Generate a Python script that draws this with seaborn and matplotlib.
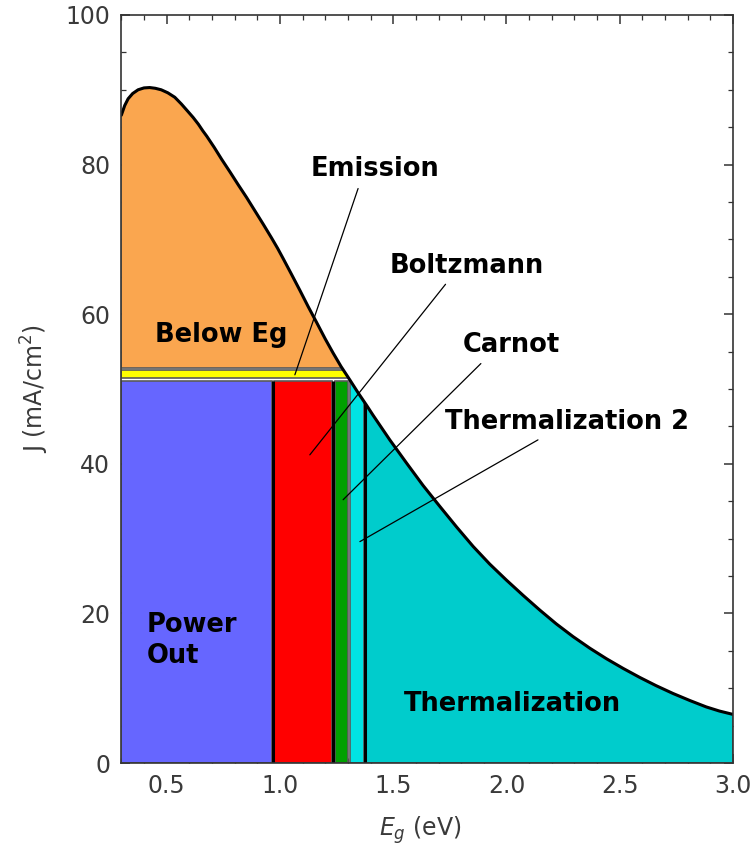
import numpy as np
import matplotlib
matplotlib.use("Agg")
import matplotlib.pyplot as plt
import seaborn as sns
from matplotlib.patches import Polygon, Rectangle
from matplotlib.ticker import MultipleLocator, FormatStrFormatter

# ---------------- data ----------------
curve_E = [0.300, 0.315, 0.330, 0.350, 0.374, 0.400, 0.425, 0.450, 0.476, 0.505,
           0.536, 0.565, 0.594, 0.617, 0.640, 0.660, 0.677, 0.710, 0.743, 0.780,
           0.816, 0.853, 0.890, 0.927, 0.963, 0.990, 1.015, 1.050, 1.088, 1.125,
           1.162, 1.200, 1.235, 1.270, 1.309, 1.345, 1.383, 1.411, 1.485, 1.559,
           1.632, 1.706, 1.780, 1.853, 1.926, 2.000, 2.074, 2.147, 2.220, 2.294,
           2.368, 2.441, 2.515, 2.588, 2.660, 2.735, 2.810, 2.882, 2.940, 3.000]
curve_J = [86.6, 87.9, 88.8, 89.5, 90.0, 90.25, 90.3, 90.2, 90.0, 89.6,
           89.0, 88.1, 87.1, 86.3, 85.4, 84.5, 83.8, 82.3, 80.7, 79.0,
           77.3, 75.6, 73.8, 72.0, 70.2, 68.8, 67.4, 65.4, 63.2, 61.0,
           58.9, 56.7, 54.8, 53.0, 51.2, 49.5, 47.8, 46.5, 43.2, 40.1,
           37.1, 34.3, 31.55, 28.95, 26.6, 24.45, 22.4, 20.45, 18.6, 16.9,
           15.35, 13.95, 12.65, 11.45, 10.35, 9.3, 8.35, 7.5, 6.95, 6.5]

region_names = ["Power Out", "Boltzmann", "Carnot", "Thermalization 2", "Thermalization"]
region_E_lo = [0.300, 0.975, 1.243, 1.311, 1.382]
region_E_hi = [0.965, 1.230, 1.299, 1.369, 3.000]
region_colors = ["#6666FF", "#FF0000", "#00A000", "#00E3E3", "#00CCCC"]
J_operating = 51.05          # top of the loss rectangles
separator_E = [0.970, 1.2365, 1.3755]
emission_J = (51.45, 52.55)  # yellow "Emission" strip
below_eg_J = 52.85           # bottom of the "Below Eg" region

# label texts, positions (E, J) and pointer lines
label_texts = ["Emission", "Boltzmann", "Carnot", "Thermalization 2"]
label_E = [1.419, 1.824, 2.022, 2.265]
label_J = [79.4, 66.4, 55.9, 45.6]
pointer_E0 = [1.345, 1.731, 1.887, 2.139]
pointer_J0 = [76.8, 64.0, 53.4, 43.2]
pointer_E1 = [1.066, 1.132, 1.279, 1.353]
pointer_J1 = [51.9, 41.2, 35.2, 29.6]

x_ticks = [0.5, 1.0, 1.5, 2.0, 2.5, 3.0]
y_ticks = [0, 20, 40, 60, 80, 100]

# ---------------- figure ----------------
sns.set_theme(style="ticks")
plt.rcParams['font.family'] = ['DejaVu Sans']
plt.rcParams['mathtext.fontset'] = 'dejavusans'

fig, ax = plt.subplots(figsize=(7.55, 8.56), dpi=100)
fig.subplots_adjust(left=0.1607, right=0.9709, bottom=0.1086, top=0.9825)

ax.set_xlim(0.3, 3.0)
ax.set_ylim(0, 100)

# clip polygon: area under the curve
under = Polygon([(curve_E[0], 0)] + list(zip(curve_E, curve_J)) + [(curve_E[-1], 0)],
                closed=True, facecolor='none', edgecolor='none', transform=ax.transData)
ax.add_patch(under)

edge_kw = dict(edgecolor='#5a5a5a', linewidth=1.2)

# Below Eg (orange)
r = Rectangle((0.3, below_eg_J), 1.2, max(curve_J), facecolor='#FAA64F', zorder=1, **edge_kw)
ax.add_patch(r); r.set_clip_path(under)
# Emission strip (yellow)
r = Rectangle((0.3, emission_J[0]), 1.2, emission_J[1] - emission_J[0],
              facecolor='#FFFF00', zorder=1, **edge_kw)
ax.add_patch(r); r.set_clip_path(under)

# loss / power regions
for name, lo, hi, c in zip(region_names, region_E_lo, region_E_hi, region_colors):
    top = max(curve_J) if name == "Thermalization" else J_operating
    r = Rectangle((lo, 0), hi - lo, top, facecolor=c, zorder=1, **edge_kw)
    ax.add_patch(r)
    r.set_clip_path(under)

vl = ax.vlines(separator_E, 0, J_operating, colors='black', linewidth=2.2, zorder=2)
vl.set_clip_path(under)

# the curve
sns.lineplot(x=curve_E, y=curve_J, color='black', linewidth=2.2, ax=ax, zorder=3,
             sort=False, estimator=None, solid_joinstyle='round')

# pointer lines and labels
lab_fs = 18.5
for t, ex, jy, e0, j0, e1, j1 in zip(label_texts, label_E, label_J,
                                      pointer_E0, pointer_J0, pointer_E1, pointer_J1):
    ax.plot([e0, e1], [j0, j1], color='black', linewidth=0.9, zorder=4)
    ax.text(ex, jy, t, ha='center', va='center', fontsize=lab_fs, fontweight='bold',
            color='black', zorder=5)

ax.text(0.739, 57.2, "Below Eg", ha='center', va='center', fontsize=lab_fs,
        fontweight='bold', color='black', zorder=5)
ax.text(0.412, 16.4, "Power\nOut", ha='left', va='center', fontsize=lab_fs,
        fontweight='bold', color='black', linespacing=1.25, zorder=5)
ax.text(2.028, 7.9, "Thermalization", ha='center', va='center', fontsize=lab_fs,
        fontweight='bold', color='black', zorder=5)

# axes styling (Mathematica-like frame)
for s in ax.spines.values():
    s.set_visible(True)
    s.set_color('#333333')
    s.set_linewidth(1.2)
    s.set_zorder(6)

ax.set_xticks(x_ticks)
ax.set_yticks(y_ticks)
ax.xaxis.set_major_formatter(FormatStrFormatter('%.1f'))
ax.xaxis.set_minor_locator(MultipleLocator(0.1))
ax.yaxis.set_minor_locator(MultipleLocator(5))
ax.tick_params(which='both', direction='in', top=True, right=True,
               color='#333333', labelcolor='#3a3a3a', labelsize=17)
ax.tick_params(which='major', length=6.5, width=1.1, pad=8)
ax.tick_params(which='minor', length=3.8, width=0.9)

ax.set_xlabel(r'$E_g$ (eV)', fontsize=17, color='#3a3a3a')
ax.set_ylabel(r'J (mA/cm$^2$)', fontsize=17, color='#3a3a3a')
ax.xaxis.set_label_coords(0.488, -0.069)
ax.yaxis.set_label_coords(-0.115, 0.5)

fig.savefig('out.png', dpi=100, facecolor='white')
